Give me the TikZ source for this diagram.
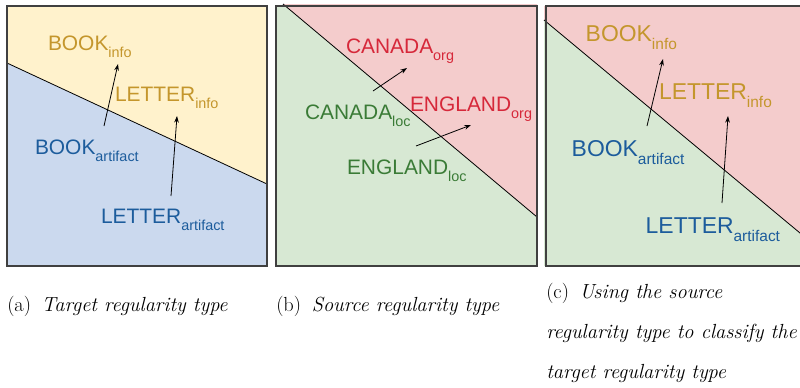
\documentclass[tikz,border=0pt]{standalone}
\usepackage{fontspec}
\setsansfont{Liberation Sans}
\usetikzlibrary{arrows.meta}
\definecolor{infogold}{HTML}{C4962C}
\definecolor{artblue}{HTML}{1C5C9C}
\definecolor{locgreen}{HTML}{3A7B36}
\definecolor{orgred}{HTML}{D6283A}
\definecolor{fillyellow}{HTML}{FFF2CC}
\definecolor{fillblue}{HTML}{CBD9EE}
\definecolor{fillpink}{HTML}{F4CCCC}
\definecolor{fillgreen}{HTML}{D7E8D3}
\newcommand{\tlab}[2]{{\sffamily\fontsize{15.7}{18}\selectfont #1\raisebox{-5.25pt}{\fontsize{10.8}{12}\selectfont #2}}}
\newcommand{\tlabbig}[2]{{\sffamily\fontsize{17.2}{20}\selectfont #1\raisebox{-6pt}{\fontsize{11.6}{13}\selectfont #2}}}
\tikzset{
  panelbox/.style={draw=black!75, line width=0.8pt},
  splitline/.style={draw=black, line width=0.6pt},
  movearrow/.style={draw=black, line width=0.6pt, -{Stealth[length=5pt,width=3.5pt]}},
  lab/.style={anchor=base west, inner sep=0pt, outer sep=0pt},
  capt/.style={anchor=base west, inner sep=0pt, font=\fontsize{15.3}{18}\selectfont},
}
\begin{document}
\begin{tikzpicture}[x=0.75pt,y=-0.75pt]
\clip (0,0) rectangle (800,387);
\fill[white] (0,0) rectangle (800,387);
% ---------- panel (a)
\fill[fillblue] (7,6) rectangle (267,266);
\fill[fillyellow] (7,6) -- (267,6) -- (267,184) -- (7,63) -- cycle;
\coordinate (a1) at (7,63);
\coordinate (a2) at (267,184);
\draw[splitline] (a1) -- (a2);
\draw[panelbox] (7,6) rectangle (267,266);
\node[lab, text=infogold] (abookinfo) at (48,50.3) {\tlab{BOOK}{info}};
\node[lab, text=infogold] (aletterinfo) at (115,101.7) {\tlab{LETTER}{info}};
\node[lab, text=artblue] (abookart) at (35,154.3) {\tlab{BOOK}{artifact}};
\node[lab, text=artblue] (aletterart) at (101,223) {\tlab{LETTER}{artifact}};
\coordinate (abs) at (104,126);
\coordinate (abe) at (118,64);
\coordinate (als) at (171,196);
\coordinate (ale) at (177,116);
\draw[movearrow] (abs) -- (abe);
\draw[movearrow] (als) -- (ale);
% ---------- panel (b)
\fill[fillgreen] (276,6) rectangle (537,266);
\fill[fillpink] (283,4) -- (537,4) -- (537,217) -- cycle;
\coordinate (b1) at (283,4);
\coordinate (b2) at (537,217);
\draw[splitline] (b1) -- (b2);
\draw[panelbox] (276,6) rectangle (537,266);
\node[lab, text=orgred] (bcanorg) at (346,53.3) {\tlab{CANADA}{org}};
\node[lab, text=locgreen] (bcanloc) at (305,119.3) {\tlab{CANADA}{loc}};
\node[lab, text=orgred] (bengorg) at (410,111) {\tlab{ENGLAND}{org}};
\node[lab, text=locgreen] (bengloc) at (347,174.3) {\tlab{ENGLAND}{loc}};
\coordinate (bcs) at (373,91);
\coordinate (bce) at (407,68);
\coordinate (bes) at (416,146);
\coordinate (bee) at (471,125);
\draw[movearrow] (bcs) -- (bce);
\draw[movearrow] (bes) -- (bee);
% ---------- panel (c)
\fill[fillgreen] (544,6) rectangle (806,266);
\fill[fillpink] (544,6) -- (806,6) -- (806,238) -- (544,20) -- cycle;
\coordinate (c1) at (544,20);
\coordinate (c2) at (806,238);
\draw[splitline] (c1) -- (c2);
\draw[panelbox] (546,6) rectangle (806,266);
\node[lab, text=infogold] (cbookinfo) at (585.7,41.7) {\tlabbig{BOOK}{info}};
\node[lab, text=infogold] (cletterinfo) at (659,99.3) {\tlabbig{LETTER}{info}};
\node[lab, text=artblue] (cbookart) at (571.7,156.7) {\tlabbig{BOOK}{artifact}};
\node[lab, text=artblue] (cletterart) at (645.7,233.3) {\tlabbig{LETTER}{artifact}};
\coordinate (cbs) at (647,126);
\coordinate (cbe) at (663,59);
\coordinate (cls) at (722,203);
\coordinate (cle) at (728,116);
\draw[movearrow] (cbs) -- (cbe);
\draw[movearrow] (cls) -- (cle);
% ---------- captions
\node[capt] (capa) at (7,311) {(a)\hspace{8pt}\textit{Target regularity type}};
\node[capt] (capb) at (276,311) {(b)\hspace{8pt}\textit{Source regularity type}};
\node[capt] (capc1) at (546,298) {(c)\hspace{8pt}\textit{Using the source}};
\node[capt] (capc2) at (546,338) {\textit{regularity type to classify the}};
\node[capt] (capc3) at (546,378) {\textit{target regularity type}};
\end{tikzpicture}
\end{document}
